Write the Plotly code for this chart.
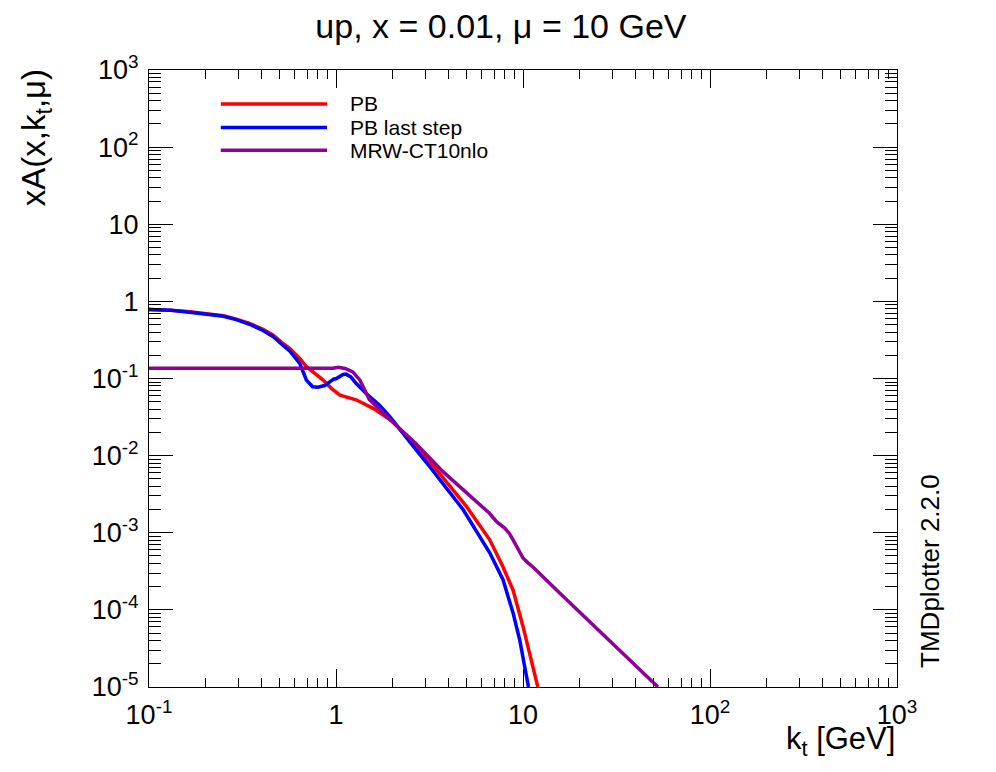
import plotly.graph_objects as go

# PB
kt_pb = [0.1, 0.13, 0.165, 0.2, 0.25, 0.293, 0.345, 0.407, 0.46, 0.52, 0.565, 0.64, 0.695,
         0.753, 0.85, 0.944, 1.05, 1.28, 1.58, 2.02, 2.69, 3.17, 4.98, 6.64, 7.82, 8.85,
         10.0, 11.1, 12.0]
xa_pb = [0.787, 0.77, 0.733, 0.70, 0.65, 0.589, 0.518, 0.433, 0.366, 0.285, 0.246, 0.182, 0.142,
         0.122, 0.096, 0.0745, 0.061, 0.053, 0.041, 0.0275, 0.013, 0.0084, 0.0022, 0.00081,
         0.00036, 0.00018, 6.1e-5, 2.27e-5, 1.0e-5]

# PB last step
kt_last = [0.1, 0.13, 0.165, 0.2, 0.25, 0.293, 0.345, 0.407, 0.46, 0.52, 0.565, 0.64, 0.695,
           0.75, 0.8, 0.87, 0.97, 1.005, 1.09, 1.13, 1.2, 1.28, 1.45, 1.71, 1.94, 2.69, 3.17,
           4.78, 6.64, 7.82, 8.85, 9.6, 10.7]
xa_last = [0.787, 0.765, 0.725, 0.69, 0.64, 0.58, 0.505, 0.42, 0.35, 0.27, 0.228, 0.157, 0.095,
           0.078, 0.077, 0.081, 0.098, 0.1, 0.113, 0.114, 0.105, 0.0865, 0.064, 0.045, 0.032,
           0.0118, 0.0072, 0.0020, 0.00055, 0.000246, 9.1e-5, 4.1e-5, 1.0e-5]

# MRW-CT10nlo
kt_mrw = [0.1, 0.5, 0.964, 1.026, 1.12, 1.23, 1.34, 1.51, 1.71, 2.0, 2.69, 3.73, 6.6, 7.2,
          7.98, 8.45, 8.85, 9.4, 10.0, 10.6, 11.3, 15.7, 27.9, 52.7]
xa_mrw = [0.1355, 0.1355, 0.1355, 0.14, 0.135, 0.122, 0.096, 0.053, 0.039, 0.0275, 0.0142,
          0.0062, 0.0018, 0.0014, 0.00115, 0.00098, 0.00081, 0.00062, 0.00047, 0.00041,
          0.00036, 1.66e-4, 4.35e-5, 1.0e-5]

names = ["PB", "PB last step", "MRW-CT10nlo"]
colors = ["#ff0000", "#0000ff", "#8e0096"]

x_tickvals = [0.1, 1, 10, 100, 1000]
x_ticktext = ["10<sup>-1</sup>", "1", "10", "10<sup>2</sup>", "10<sup>3</sup>"]
y_tickvals = [1e-5, 1e-4, 1e-3, 1e-2, 1e-1, 1, 10, 100, 1000]
y_ticktext = ["10<sup>-5</sup>", "10<sup>-4</sup>", "10<sup>-3</sup>", "10<sup>-2</sup>",
              "10<sup>-1</sup>", "1", "10", "10<sup>2</sup>", "10<sup>3</sup>"]

FONT = "Liberation Sans, Arial, sans-serif"

fig = go.Figure()
for kx, ky, nm, col in zip([kt_pb, kt_last, kt_mrw], [xa_pb, xa_last, xa_mrw], names, colors):
    fig.add_trace(go.Scatter(x=kx, y=ky, mode="lines", name=nm,
                             line=dict(color=col, width=3.5), showlegend=False))

# ROOT-style legend drawn by hand (long line samples)
leg_y = [0.945, 0.907, 0.870]
for nm, col, yy in zip(names, colors, leg_y):
    fig.add_shape(type="line", xref="paper", yref="paper", x0=0.096, x1=0.238, y0=yy, y1=yy,
                  line=dict(color=col, width=3.5))
    fig.add_annotation(xref="paper", yref="paper", x=0.266, y=yy, text=nm, showarrow=False,
                       xanchor="left", yanchor="middle", font=dict(size=21, color="black"))

axis_common = dict(type="log", showgrid=False, zeroline=False, showline=True,
                   linecolor="black", linewidth=1, mirror="allticks", ticks="inside",
                   tickcolor="black", tickwidth=1, tickfont=dict(size=27, color="black"))

fig.update_xaxes(range=[-1, 3], tickmode="array", tickvals=x_tickvals, ticktext=x_ticktext,
                 ticklen=18, ticklabelstandoff=4,
                 minor=dict(ticks="inside", ticklen=9, tickcolor="black", tickwidth=1,
                            dtick="D1", showgrid=False),
                 **axis_common)
fig.update_yaxes(range=[-5, 3], tickmode="array", tickvals=y_tickvals, ticktext=y_ticktext,
                 ticklen=24, ticklabelstandoff=4,
                 minor=dict(ticks="inside", ticklen=12, tickcolor="black", tickwidth=1,
                            dtick="D1", showgrid=False),
                 **axis_common)

fig.add_annotation(xref="paper", yref="paper", x=-0.15, y=1.005, text="xA(x,k<sub>t</sub>,μ)",
                   textangle=-90, showarrow=False, xanchor="center", yanchor="top",
                   font=dict(size=33, color="black"))
fig.add_annotation(xref="paper", yref="paper", x=1.0, y=-0.1225, text="k<sub>t</sub> [GeV]",
                   showarrow=False, xanchor="right", yanchor="bottom",
                   font=dict(size=31, color="black"))
fig.add_annotation(xref="paper", yref="paper", x=1.044, y=0.188, text="TMDplotter 2.2.0",
                   textangle=-90, showarrow=False, xanchor="center", yanchor="middle",
                   font=dict(size=26, color="black"))

# page body keeps an 8 px margin, so the figure is 16 px smaller than the window
fig.update_layout(
    width=980, height=756,
    margin=dict(l=141, r=91, t=62, b=77),
    paper_bgcolor="white", plot_bgcolor="white",
    font=dict(family=FONT, color="black"),
    title=dict(text="up, x = 0.01, μ = 10 GeV", x=0.503, xref="container", y=0.976,
               yanchor="middle", xanchor="center", font=dict(size=34, color="black")),
    showlegend=False,
)

fig.write_html("out.html")
